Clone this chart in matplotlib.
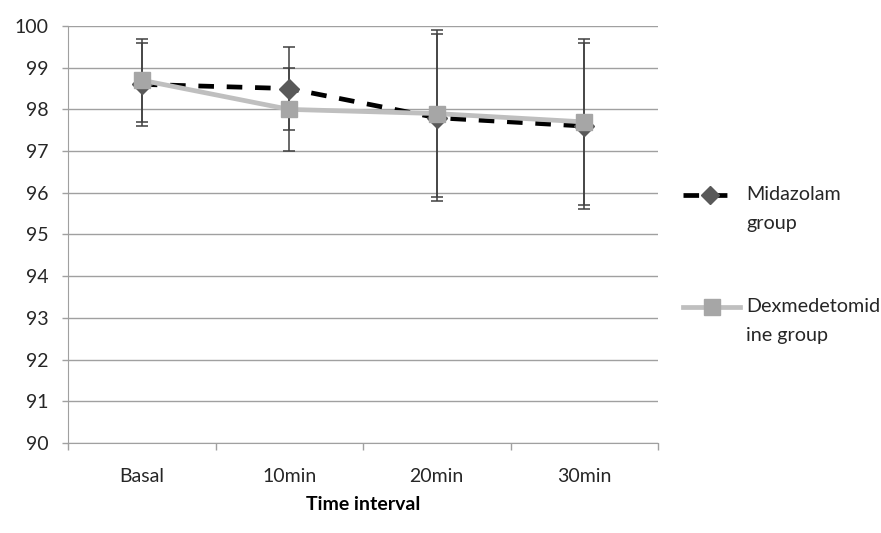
import numpy as np
import matplotlib.pyplot as plt
from matplotlib.lines import Line2D

plt.rcParams['font.family'] = ['Lato', 'DejaVu Sans']

categories = ['Basal', '10min', '20min', '30min']
mida_mean = [98.6, 98.5, 97.8, 97.6]
mida_err = [1.0, 1.0, 2.0, 2.0]
dex_mean = [98.7, 98.0, 97.9, 97.7]
dex_err = [1.0, 1.0, 2.0, 2.0]
yticks = np.arange(90, 101, 1)

fig = plt.figure(figsize=(8.81, 5.33), dpi=100)
ax = fig.add_axes([68/881, 1-443/533, 590/881, 417/533])

x = np.arange(len(categories))

ax.errorbar(x, mida_mean, yerr=mida_err, fmt='none', ecolor='#404040',
            elinewidth=1.1, capsize=4, capthick=1.1, zorder=3)
ax.errorbar(x, dex_mean, yerr=dex_err, fmt='none', ecolor='#404040',
            elinewidth=1.1, capsize=4, capthick=1.1, zorder=3)
ax.plot(x, mida_mean, color='black', lw=3.4, dashes=(3.3, 2.7),
        marker='D', ms=10, mfc='#595959', mec='#595959', zorder=4)
ax.plot(x, dex_mean, color='#BFBFBF', lw=3.4,
        marker='s', ms=12, mfc='#A6A6A6', mec='#A6A6A6', zorder=5)

ax.set_xlim(-0.5, 3.5)
ax.set_ylim(90, 100)
ax.set_yticks(yticks)
ax.set_xticks(x)
ax.set_xticklabels(categories)
ax.set_xticks(np.arange(-0.5, 4, 1), minor=True)
ax.tick_params(axis='x', which='major', length=0, pad=18, labelsize=14, labelcolor='#262626')
ax.tick_params(axis='x', which='minor', length=5, width=1, color='#A0A0A0')
ax.tick_params(axis='y', length=4, width=1, color='#A0A0A0', pad=10, labelsize=14, labelcolor='#262626')
ax.grid(axis='y', color='#A0A0A0', lw=1)
ax.set_axisbelow(True)
for s in ['top', 'right']:
    ax.spines[s].set_visible(False)
for s in ['left', 'bottom']:
    ax.spines[s].set_color('#A0A0A0')
ax.set_xlabel('Time interval', fontsize=14, fontweight='bold', labelpad=8)

# legend, drawn by hand so the handle sits on the first text line
W, H = 881, 533
def px(xp, yp):
    return xp / W, 1 - yp / H

l1 = Line2D([683/W, 728/W], [1-195/H]*2, transform=fig.transFigure,
            color='black', lw=3.4, dashes=(3.3, 2.7))
m1 = Line2D([710/W], [1-195/H], transform=fig.transFigure, marker='D',
            ms=9, mfc='#595959', mec='#595959', ls='none')
l2 = Line2D([683/W, 740/W], [1-307/H]*2, transform=fig.transFigure,
            color='#BFBFBF', lw=3.4)
m2 = Line2D([712/W], [1-307/H], transform=fig.transFigure, marker='s',
            ms=11, mfc='#A6A6A6', mec='#A6A6A6', ls='none')
for a in (l1, m1, l2, m2):
    fig.add_artist(a)

fig.text(*px(746, 194), 'Midazolam', fontsize=14.2, color='#262626', va='center')
fig.text(*px(746, 223), 'group', fontsize=14.2, color='#262626', va='center')
fig.text(*px(746, 306), 'Dexmedetomid', fontsize=14.2, color='#262626', va='center')
fig.text(*px(746, 335), 'ine group', fontsize=14.2, color='#262626', va='center')

fig.savefig('out.png', dpi=100)
